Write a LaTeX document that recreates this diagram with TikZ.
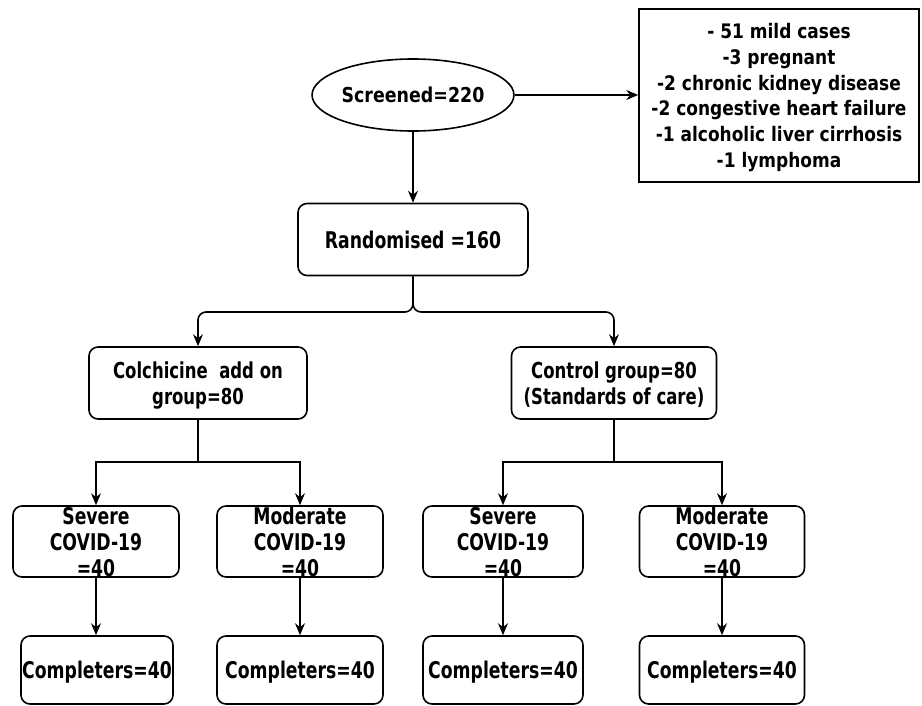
\documentclass[tikz,border=0pt]{standalone}
\usepackage{fontspec}
\newfontfamily\ftop[FakeStretch=0.85]{DejaVu Sans}
\newfontfamily\fbot[FakeStretch=0.75]{DejaVu Sans}
\usetikzlibrary{arrows.meta,shapes.geometric}
\tikzset{
  rbox/.style={draw, line width=1.6pt, rounded corners=9pt, inner sep=0pt, align=center,
    text depth=0pt, font=\fbot\bfseries\fontsize{23}{26}\selectfont},
  midbox/.style={rbox, font=\fbot\bfseries\fontsize{22}{25.8}\selectfont},
  sqbox/.style={draw, line width=1.6pt, inner sep=0pt, align=center, text depth=-4pt,
    font=\ftop\bfseries\fontsize{20}{25.8}\selectfont},
  ellbox/.style={draw, ellipse, line width=1.6pt, inner sep=0pt,
    font=\ftop\bfseries\fontsize{20.5}{24}\selectfont},
  arr/.style={line width=1.6pt, -{Stealth[length=12pt,width=10pt,inset=4pt]}},
}
\begin{document}
\begin{tikzpicture}[x=1pt,y=-1pt]
\useasboundingbox[fill=white] (0,0) rectangle (922,706);

% top
\node[ellbox, minimum width=160pt, minimum height=72pt] (scr) at (413,95) {Screened=220};
\node[sqbox, minimum width=280pt, minimum height=173pt] (excl) at (779,95.5)
  {- 51 mild cases\\-3 pregnant\\-2 chronic kidney disease\\-2 congestive heart failure\\-1 alcoholic liver cirrhosis\\-1 lymphoma};
\node[rbox, minimum width=230pt, minimum height=72pt] (rand) at (413,239.5) {Randomised =160};

% groups
\node[midbox, minimum width=218pt, minimum height=72pt] (colch) at (198,383) {Colchicine~ add on\\group=80};
\node[midbox, minimum width=205pt, minimum height=72pt] (ctrl) at (614,383) {Control group=80\\(Standards of care)};

% severity
\node[rbox, minimum width=166pt, minimum height=71pt] (sev1) at (96,541.5) {Severe\\COVID-19\\=40};
\node[rbox, minimum width=166pt, minimum height=71pt] (mod1) at (300,541.5) {Moderate\\COVID-19\\=40};
\node[rbox, minimum width=160pt, minimum height=71pt] (sev2) at (503,541.5) {Severe\\COVID-19\\=40};
\node[rbox, minimum width=165pt, minimum height=71pt] (mod2) at (722,541.5) {Moderate\\COVID-19\\=40};

% completers
\node[rbox, minimum width=152pt, minimum height=68pt] (comp1) at (97,670) {Completers=40};
\node[rbox, minimum width=166pt, minimum height=68pt] (comp2) at (300,670) {Completers=40};
\node[rbox, minimum width=160pt, minimum height=68pt] (comp3) at (503,670) {Completers=40};
\node[rbox, minimum width=165pt, minimum height=68pt] (comp4) at (722,670) {Completers=40};

% split points
\coordinate (rs) at (413,312);
\coordinate (cs) at (198,462);
\coordinate (ks) at (614,462);

% connectors
\draw[arr] (scr.east) -- (scr.east -| excl.west);
\draw[arr] (scr.south) -- (scr.south |- rand.north);
\draw[arr, rounded corners=8pt] (rand.south) -- (rs) -| (colch.north);
\draw[arr, rounded corners=8pt] (rand.south) -- (rs) -| (ctrl.north);
\draw[arr] (colch.south) -- (cs) -| (sev1.north);
\draw[arr] (colch.south) -- (cs) -| (mod1.north);
\draw[arr] (ctrl.south) -- (ks) -| (sev2.north);
\draw[arr] (ctrl.south) -- (ks) -| (mod2.north);
\draw[arr] (sev1.south) -- (sev1.south |- comp1.north);
\draw[arr] (mod1.south) -- (mod1.south |- comp2.north);
\draw[arr] (sev2.south) -- (sev2.south |- comp3.north);
\draw[arr] (mod2.south) -- (mod2.south |- comp4.north);
\end{tikzpicture}
\end{document}
